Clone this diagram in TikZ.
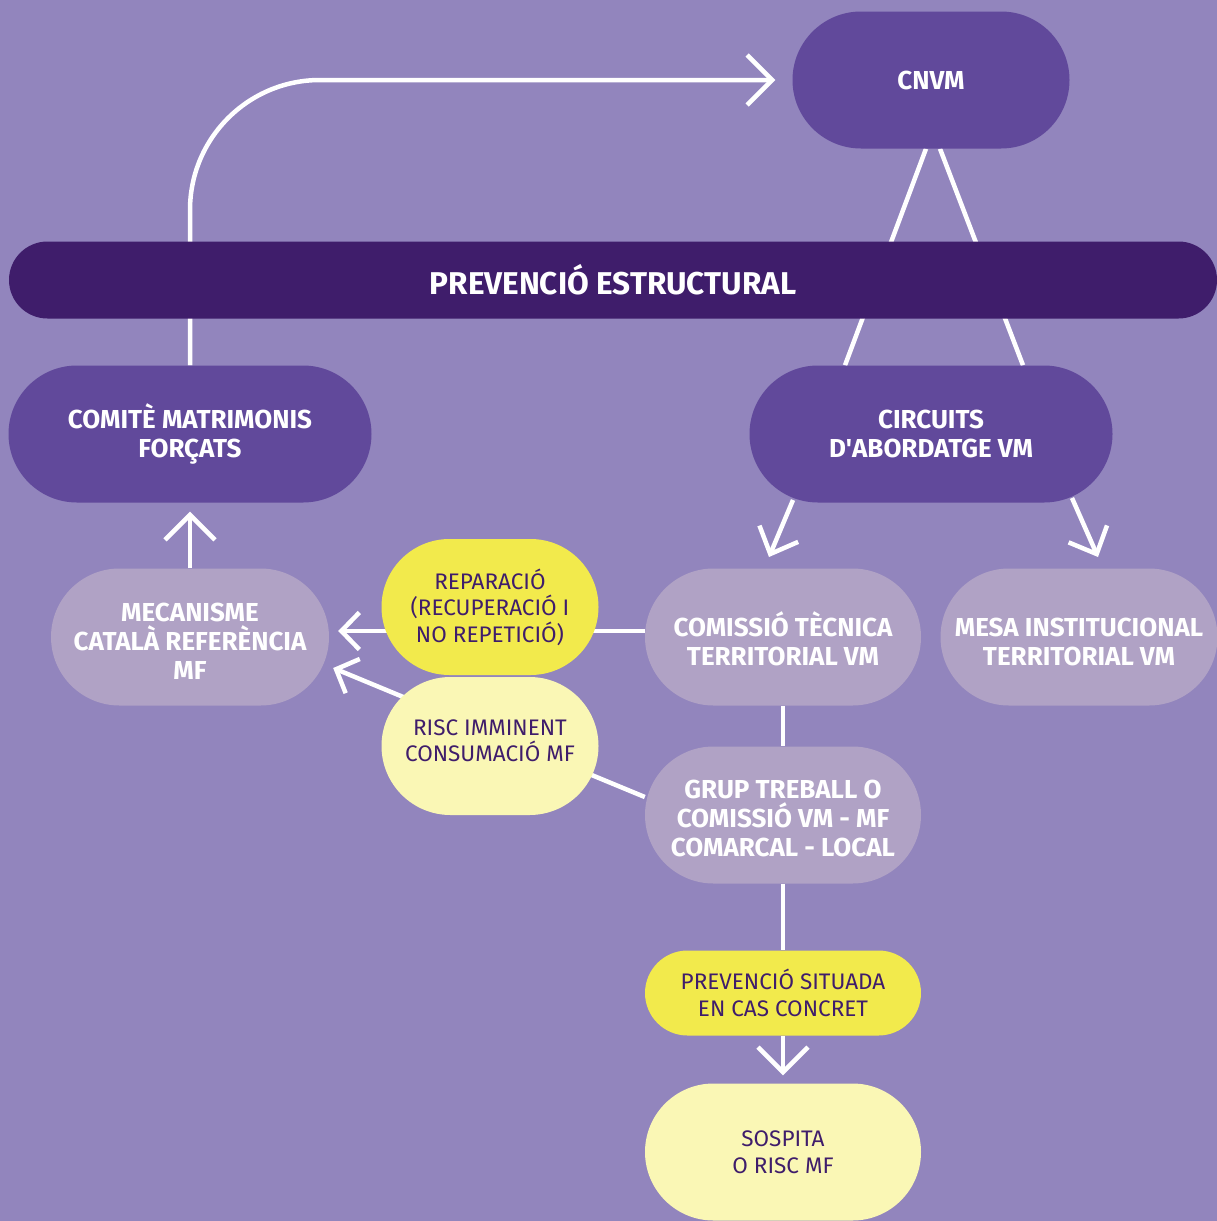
\documentclass[tikz,border=0pt]{standalone}
\usepackage{fontspec}
\setmainfont{Fira Sans}
\usetikzlibrary{arrows.meta}
\usetikzlibrary{shapes.misc}
\definecolor{bgviolet}{HTML}{9285BD}
\definecolor{barviolet}{HTML}{3F1D6B}
\definecolor{midviolet}{HTML}{61499B}
\definecolor{lilac}{HTML}{B0A2C5}
\definecolor{lemon}{HTML}{F2EA4C}
\definecolor{paleyellow}{HTML}{FAF7B5}
\definecolor{inkviolet}{HTML}{3F1D6B}
\pgfdeclarelayer{back}
\pgfdeclarelayer{links}
\pgfsetlayers{back,links,main}
\tikzset{
    box/.style={
        rounded rectangle,
        minimum width=277pt,
        minimum height=137pt,
        inner sep=0pt,
        align=center,
        text=white,
        font=\bfseries\fontsize{26}{29}\selectfont
    },
    darkbox/.style={box, fill=midviolet},
    lightbox/.style={box, fill=lilac},
    yellowbox/.style={
        box, fill=lemon, text=inkviolet,
        font=\fontsize{22.5}{26.5}\selectfont
    },
    paleyellowbox/.style={yellowbox, fill=paleyellow},
    link/.style={draw=white, line width=4.5pt},
    linkarrow/.style={link, -{Straight Barb[sharp, length=25pt, width=50pt]}},
    midarrow/.style={link, -{Straight Barb[sharp, length=22pt, width=42pt]}},
    smallarrow/.style={link, -{Straight Barb[sharp, length=18pt, width=37pt]}}
}

\begin{document}
\begin{tikzpicture}[x=1pt, y=-1pt]
  \useasboundingbox (0,0) rectangle (1217,1221);
  \begin{pgfonlayer}{back}
    \fill[bgviolet] (0,0) rectangle (1217,1221);
  \end{pgfonlayer}

  % Top level
  \node[darkbox] (cnvm) at (931,80) {CNVM};
  \node[box, fill=barviolet, minimum width=1208pt, minimum height=77pt,
        font=\bfseries\fontsize{31.5}{34}\selectfont] (prev) at (613,280) {PREVENCIÓ ESTRUCTURAL};

  % Second level
  \node[darkbox, minimum width=363pt] (comite) at (190,434) {COMITÈ MATRIMONIS\\FORÇATS};
  \node[darkbox, minimum width=363pt] (circ) at (931,434) {CIRCUITS\\D\textquotesingle ABORDATGE VM};

  % Territorial level
  \node[lightbox, minimum width=278pt, text height=85pt] (mcr) at (190,637) {MECANISME\\CATALÀ REFERÈNCIA\\MF};
  \node[lightbox, minimum width=276pt, text height=58pt] (ctt) at (783,637) {COMISSIÓ TÈCNICA\\TERRITORIAL VM};
  \node[lightbox, text height=58pt] (mesa) at (1079,637) {MESA INSTITUCIONAL\\TERRITORIAL VM};
  \node[lightbox, minimum width=276pt, text height=84pt] (grup) at (783,815) {GRUP TREBALL O\\COMISSIÓ VM - MF\\COMARCAL - LOCAL};

  % Yellow steps
  \node[yellowbox, minimum width=217pt, minimum height=136pt] (repar) at (490,607) {REPARACIÓ\\(RECUPERACIÓ I\\NO REPETICIÓ)};
  \node[paleyellowbox, minimum width=217pt, minimum height=138pt, text height=32pt] (risc) at (490,746) {RISC IMMINENT\\CONSUMACIÓ MF};
  \node[yellowbox, minimum width=276pt, minimum height=85pt] (psit) at (783,993) {PREVENCIÓ SITUADA\\EN CAS CONCRET};
  \node[paleyellowbox, minimum width=276pt] (sosp) at (783,1152) {SOSPITA\\O RISC MF};

  % Connectors
  \begin{pgfonlayer}{links}
    \draw[linkarrow, rounded corners=130pt, shorten >=17pt] (comite.north) |- (cnvm.west);
    \draw[link] ([xshift=-5pt]cnvm.south) -- ([xshift=-86pt]circ.north);
    \draw[link] ([xshift=9pt]cnvm.south) -- ([xshift=92pt]circ.north);
    \draw[midarrow] ([xshift=-138pt, yshift=-66pt]circ.center) -- ([xshift=-14pt, yshift=80pt]ctt.center);
    \draw[midarrow] ([xshift=141pt, yshift=-64pt]circ.center) -- ([xshift=19pt, yshift=80pt]mesa.center);
    \draw[linkarrow, shorten >=9pt] (mcr.north) -- (comite.south);
    \draw[smallarrow] ([yshift=6pt]ctt.west) -- ([xshift=9pt, yshift=6pt]mcr.east);
    \draw[smallarrow] ([yshift=18pt]grup.west) -- ([xshift=4pt, yshift=-31pt]mcr.east);
    \draw[link] (ctt.south) -- (grup.north);
    \draw[link] (grup.south) -- (psit.north);
    \draw[linkarrow, shorten >=8pt] (psit.south) -- (sosp.north);
  \end{pgfonlayer}
\end{tikzpicture}
\end{document}
